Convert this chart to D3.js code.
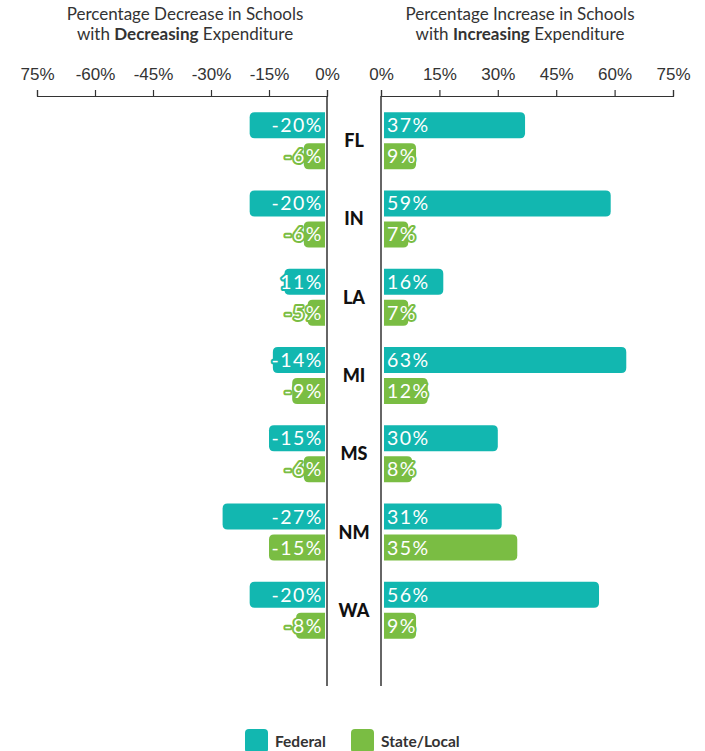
<!DOCTYPE html>
<html>
<head>
<meta charset="utf-8">
<script src="https://cdn.jsdelivr.net/npm/d3@7"></script>
<style>
  body { margin: 0; background: #fff; }
  svg { display: block; font-family: Lato, "Open Sans", sans-serif; }
</style>
</head>
<body>
<div id="chart"></div>
<script>
(function(){

  var width = 705;
  var height = 751;

  // data
  var states = ['FL', 'IN', 'LA', 'MI', 'MS', 'NM', 'WA'];
  var federalDecrease = [-20, -20, -11, -14, -15, -27, -20];
  var stateDecrease = [-6, -6, -5, -9, -6, -15, -8];
  var federalIncrease = [37, 59, 16, 63, 30, 31, 56];
  var stateIncrease = [9, 7, 7, 12, 8, 35, 9];
  var federalDecreaseLabels = ['-20%', '-20%', '11%', '-14%', '-15%', '-27%', '-20%'];
  var stateDecreaseLabels = ['-6%', '-6%', '-5%', '-9%', '-6%', '-15%', '-8%'];
  var leftTicks = [-75, -60, -45, -30, -15, 0];
  var leftTickLabels = ['75%', '-60%', '-45%', '-30%', '-15%', '0%'];
  var rightTicks = [0, 15, 30, 45, 60, 75];
  var rightTickLabels = ['0%', '15%', '30%', '45%', '60%', '75%'];
  var seriesNames = ['Federal', 'State/Local'];

  var teal = '#12b7b0';
  var green = '#7abd43';
  var ink = '#333';

  var svg = d3.select('#chart')
              .append('svg')
              .attr('width', width)
              .attr('height', height);

  var xLeft = d3.scaleLinear().domain([-75, 0]).range([37, 327]);
  var xRight = d3.scaleLinear().domain([0, 75]).range([381, 673]);
  var y = d3.scaleBand().domain(states).range([102, 650]);
  var axisY = 96;

  // titles
  var titles = [
    { x: 185, l1: 'Percentage Decrease in Schools', pre: 'with ', bold: 'Decreasing', post: ' Expenditure' },
    { x: 520, l1: 'Percentage Increase in Schools', pre: 'with ', bold: 'Increasing', post: ' Expenditure' }
  ];
  titles.forEach(function(t) {
    svg.append('text')
       .attr('x', t.x).attr('y', 20)
       .attr('text-anchor', 'middle')
       .attr('font-size', 17)
       .attr('fill', ink)
       .text(t.l1);
    var line2 = svg.append('text')
       .attr('x', t.x).attr('y', 40)
       .attr('text-anchor', 'middle')
       .attr('font-size', 17)
       .attr('fill', ink);
    line2.append('tspan').text(t.pre);
    line2.append('tspan').attr('font-weight', 700).text(t.bold);
    line2.append('tspan').text(t.post);
  });

  // axes
  function styleAxis(g) {
    g.selectAll('path, line').attr('stroke', ink).attr('stroke-width', 1.2);
    g.selectAll('text').attr('fill', ink).attr('font-size', 17);
  }

  svg.append('g')
     .attr('transform', 'translate(0,' + axisY + ')')
     .call(d3.axisTop(xLeft).tickValues(leftTicks)
       .tickFormat(function(d, i) { return leftTickLabels[i]; })
       .tickSize(6).tickPadding(10))
     .call(styleAxis);

  svg.append('g')
     .attr('transform', 'translate(0,' + axisY + ')')
     .call(d3.axisTop(xRight).tickValues(rightTicks)
       .tickFormat(function(d, i) { return rightTickLabels[i]; })
       .tickSize(6).tickPadding(10))
     .call(styleAxis);

  // vertical baselines
  [xLeft(0), xRight(0)].forEach(function(x) {
    svg.append('line')
       .attr('x1', x).attr('x2', x)
       .attr('y1', axisY).attr('y2', 686)
       .attr('stroke', ink).attr('stroke-width', 1.5);
  });

  // bar with rounded outer end only
  function barPath(xIn, xOut, y0, h, r) {
    var dir = xOut < xIn ? -1 : 1;
    var w = Math.abs(xOut - xIn);
    r = Math.min(r, w / 2, h / 2);
    return 'M' + xIn + ',' + y0 +
      'L' + (xOut - dir * r) + ',' + y0 +
      'Q' + xOut + ',' + y0 + ' ' + xOut + ',' + (y0 + r) +
      'L' + xOut + ',' + (y0 + h - r) +
      'Q' + xOut + ',' + (y0 + h) + ' ' + (xOut - dir * r) + ',' + (y0 + h) +
      'L' + xIn + ',' + (y0 + h) + 'Z';
  }

  var barH = 26;
  var series = [
    { values: federalDecrease, labels: federalDecreaseLabels, side: 'left', color: teal, dy: -29 },
    { values: stateDecrease, labels: stateDecreaseLabels, side: 'left', color: green, dy: 2 },
    { values: federalIncrease, labels: federalIncrease.map(function(v) { return v + '%'; }), side: 'right', color: teal, dy: -29 },
    { values: stateIncrease, labels: stateIncrease.map(function(v) { return v + '%'; }), side: 'right', color: green, dy: 2 }
  ];

  series.forEach(function(s) {
    var data = states.map(function(st, i) { return { state: st, value: s.values[i], label: s.labels[i] }; });
    var g = svg.append('g');
    var left = s.side === 'left';

    g.selectAll('path')
     .data(data)
     .enter()
     .append('path')
     .attr('d', function(d) {
       var c = y(d.state) + y.bandwidth() / 2;
       if (left) return barPath(xLeft(0) - 2, xLeft(d.value), c + s.dy, barH, 5);
       return barPath(xRight(0) + 3, xRight(d.value), c + s.dy, barH, 5);
     })
     .attr('fill', s.color);

    g.selectAll('text')
     .data(data)
     .enter()
     .append('text')
     .attr('x', left ? xLeft(0) - 4 : xRight(0) + 6)
     .attr('y', function(d) { return y(d.state) + y.bandwidth() / 2 + s.dy + barH / 2 + 7; })
     .attr('text-anchor', left ? 'end' : 'start')
     .attr('font-size', 19.5)
     .attr('letter-spacing', 1.5)
     .attr('fill', '#fff')
     .attr('stroke', s.color)
     .attr('stroke-width', 4)
     .attr('stroke-linejoin', 'round')
     .attr('paint-order', 'stroke')
     .text(function(d) { return d.label; });
  });

  // state labels
  svg.selectAll('.state')
     .data(states)
     .enter()
     .append('text')
     .attr('class', 'state')
     .attr('x', (xLeft(0) + xRight(0)) / 2)
     .attr('y', function(d) { return y(d) + y.bandwidth() / 2 + 6; })
     .attr('text-anchor', 'middle')
     .attr('font-size', 18)
     .attr('font-weight', 900)
     .attr('fill', '#111')
     .text(function(d) { return d; });

  // legend
  var legend = svg.selectAll('.legend')
     .data(seriesNames)
     .enter()
     .append('g')
     .attr('class', 'legend')
     .attr('transform', function(d, i) { return 'translate(' + (245 + i * 106) + ',729)'; });

  legend.append('rect')
     .attr('width', 23).attr('height', 24).attr('rx', 4)
     .attr('fill', function(d, i) { return i === 0 ? teal : green; });

  legend.append('text')
     .attr('x', 30).attr('y', 18)
     .attr('font-size', 15.5)
     .attr('font-weight', 700)
     .attr('fill', ink)
     .text(function(d) { return d; });

})();
</script>
</body>
</html>
